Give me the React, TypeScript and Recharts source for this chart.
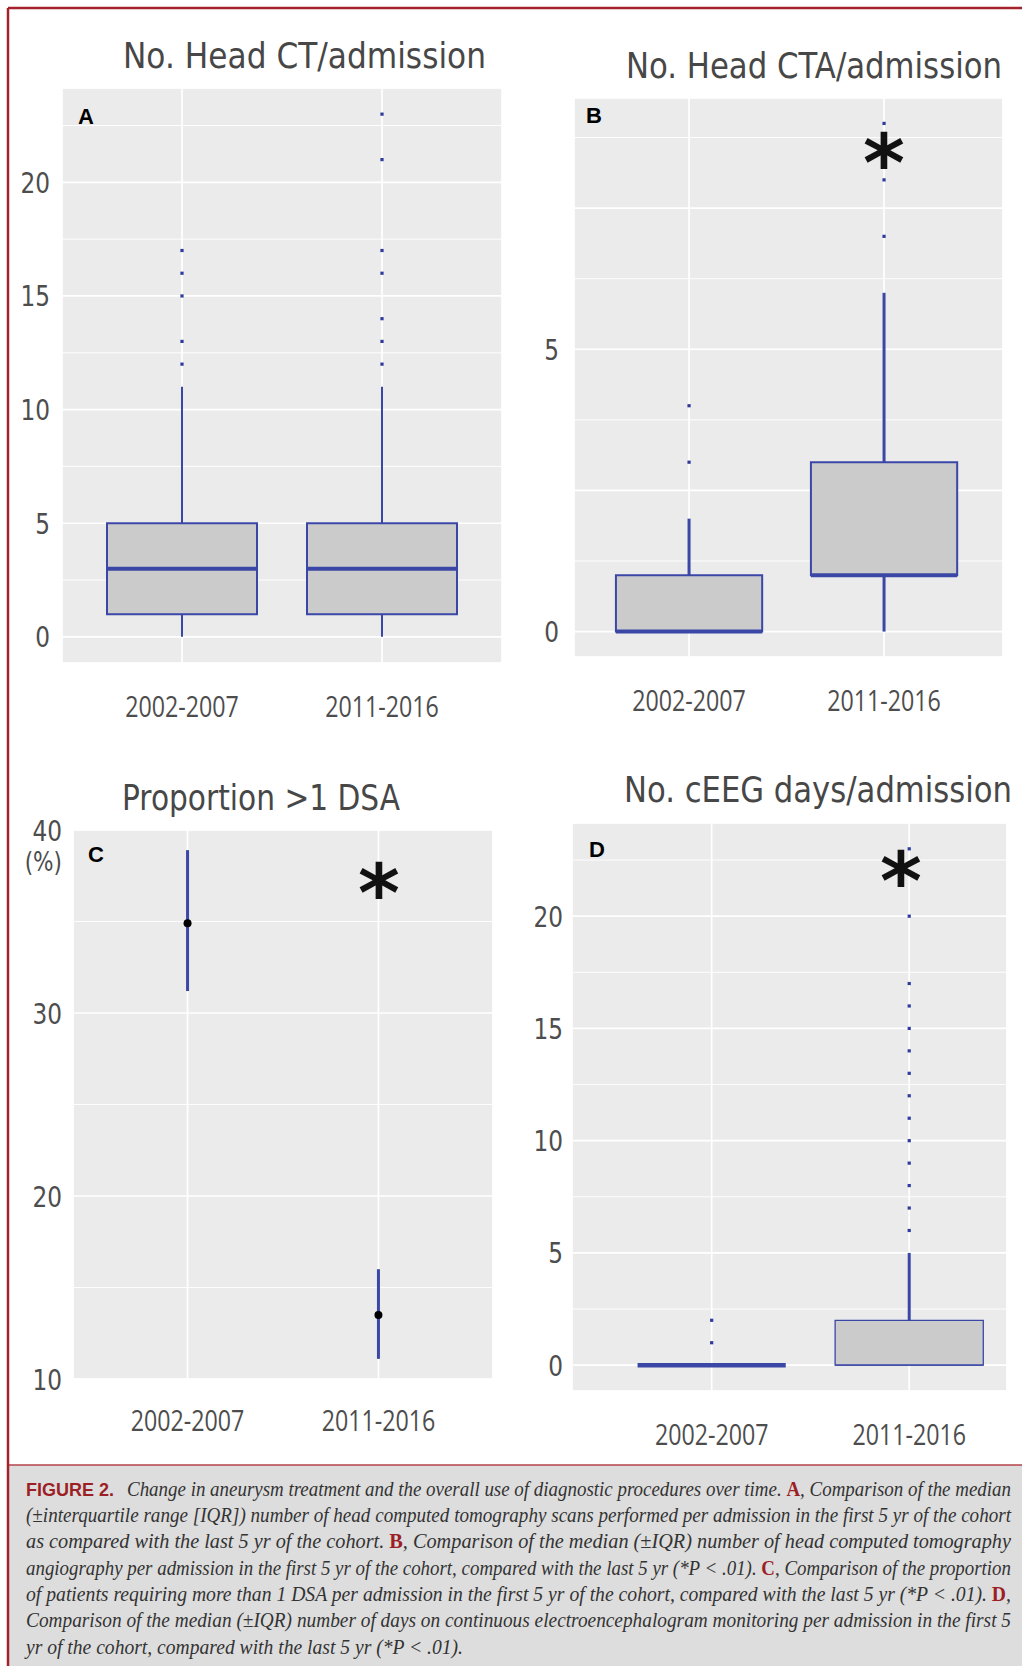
import React from 'react';
import { ScatterChart, Scatter, XAxis, YAxis, CartesianGrid, ReferenceArea, ReferenceLine } from 'recharts';

// ---------------- DATA ----------------
const categories = ['2002-2007', '2011-2016'];

// A: No. Head CT/admission
const ctWhiskerLow = [0, 0];
const ctQ1 = [1, 1];
const ctMedian = [3, 3];
const ctQ3 = [5, 5];
const ctWhiskerHigh = [11, 11];
const ctOutliers2002 = [12, 13, 15, 16, 17];
const ctOutliers2011 = [12, 13, 14, 16, 17, 21, 23];
const ctTicks = [0, 5, 10, 15, 20];
const ctMinorTicks = [2.5, 7.5, 12.5, 17.5, 22.5];

// B: No. Head CTA/admission
const ctaWhiskerLow = [0, 0];
const ctaQ1 = [0, 1];
const ctaMedian = [0, 1];
const ctaQ3 = [1, 3];
const ctaWhiskerHigh = [2, 6];
const ctaOutliers2002 = [3, 4];
const ctaOutliers2011 = [7, 8, 9];
const ctaTicks = [0, 2.5, 5, 7.5];
const ctaLabelledTicks = [0, 5];
const ctaMinorTicks = [1.25, 3.75, 6.25, 8.75];

// C: Proportion >1 DSA (%)
const dsaPercent = [34.9, 13.5];
const dsaLow = [31.2, 11.1];
const dsaHigh = [38.9, 16.0];
const dsaTicks = [10, 20, 30, 40];
const dsaMinorTicks = [15, 25, 35];

// D: No. cEEG days/admission
const eegWhiskerLow = [0, 0];
const eegQ1 = [0, 0];
const eegMedian = [0, 0];
const eegQ3 = [0, 2];
const eegWhiskerHigh = [0, 5];
const eegOutliers2002 = [1, 2];
const eegOutliers2011 = [6, 7, 8, 9, 10, 11, 12, 13, 14, 15, 16, 17, 20, 23];
const eegTicks = [0, 5, 10, 15, 20];
const eegMinorTicks = [2.5, 7.5, 12.5, 17.5, 22.5];

// ---------------- STYLE ----------------
const BLUE = '#3b47a6';
const DOT = '#2e3a9c';
const BOXFILL = '#cbcbcb';
const PANEL = '#ebebeb';
const AXTEXT = '#4d4d4d';
const RED = '#a3222b';
const HALF = 0.375;

type Box = { pos: number; lo: number; q1: number; med: number; q3: number; hi: number };
const buildBoxes = (lo: number[], q1: number[], med: number[], q3: number[], hi: number[]): Box[] =>
  categories.map((_, i) => ({ pos: i + 1, lo: lo[i], q1: q1[i], med: med[i], q3: q3[i], hi: hi[i] }));
const buildPoints = (groups: number[][]) =>
  groups.flatMap((vals, i) => vals.map((v) => ({ x: i + 1, y: v })));

const ctBoxes = buildBoxes(ctWhiskerLow, ctQ1, ctMedian, ctQ3, ctWhiskerHigh);
const ctaBoxes = buildBoxes(ctaWhiskerLow, ctaQ1, ctaMedian, ctaQ3, ctaWhiskerHigh);
const eegBoxes = buildBoxes(eegWhiskerLow, eegQ1, eegMedian, eegQ3, eegWhiskerHigh);
const ctPoints = buildPoints([ctOutliers2002, ctOutliers2011]);
const ctaPoints = buildPoints([ctaOutliers2002, ctaOutliers2011]);
const eegPoints = buildPoints([eegOutliers2002, eegOutliers2011]);
const dsaPoints = categories.map((_, i) => ({ x: i + 1, y: dsaPercent[i], lo: dsaLow[i], hi: dsaHigh[i] }));

type PanelProps = {
  plot: { x: number; y: number; w: number; h: number };
  xDomain: [number, number];
  yDomain: [number, number];
  ticks: number[];
  minorTicks: number[];
  labelled?: number[];
  yGap: number;
  xDy: number;
  percent?: boolean;
  boxes?: Box[];
  boxStroke?: number;
  whiskerWidth?: number;
  medianWidths?: number[];
  outliers?: { x: number; y: number }[];
  means?: { x: number; y: number; lo: number; hi: number }[];
};

const YM = 70;
const TOP = 24;

function Panel(p: PanelProps) {
  const { plot } = p;
  const width = plot.w + YM + 10;
  const height = plot.h + TOP + YM;
  const yTick = (props: any) => {
    const v = props.payload.value;
    if (p.labelled && !p.labelled.includes(v)) return <g />;
    return (
      <g transform={`translate(${props.x - p.yGap},${props.y + 10.5})`}>
        <text transform="scale(0.8,1)" textAnchor="end" fontFamily="DejaVu Sans" fontSize={29} fill={AXTEXT}>
          {String(v)}
        </text>
        {p.percent && v === 40 ? (
          <text transform="scale(0.8,1)" y={31} textAnchor="end" fontFamily="DejaVu Sans" fontSize={27} fill={AXTEXT}>
            (%)
          </text>
        ) : null}
      </g>
    );
  };
  const xTick = (props: any) => (
    <g transform={`translate(${props.x},${props.y + p.xDy})`}>
      <text transform="scale(0.8,1)" textAnchor="middle" fontFamily="Open Sans" fontSize={29} fill={AXTEXT}>
        {categories[Math.round(props.payload.value) - 1]}
      </text>
    </g>
  );
  return (
    <div style={{ position: 'absolute', left: plot.x - YM, top: plot.y - TOP, width, height }}>
      <ScatterChart width={width} height={height} margin={{ top: TOP, right: 10, bottom: 0, left: 0 }}>
        <XAxis
          type="number"
          dataKey="x"
          domain={p.xDomain}
          allowDataOverflow
          ticks={[1, 2]}
          interval={0}
          height={YM}
          tickSize={0}
          tickMargin={0}
          axisLine={false}
          tickLine={false}
          tick={xTick}
        />
        <YAxis
          type="number"
          dataKey="y"
          domain={p.yDomain}
          allowDataOverflow
          ticks={p.ticks}
          interval={0}
          width={YM}
          tickSize={0}
          tickMargin={0}
          axisLine={false}
          tickLine={false}
          tick={yTick}
        />
        <YAxis yAxisId="minor" type="number" domain={p.yDomain} allowDataOverflow ticks={p.minorTicks} interval={0} hide />
        <CartesianGrid fill={PANEL} fillOpacity={1} stroke="#ffffff" strokeWidth={1.7} />
        <CartesianGrid yAxisId="minor" vertical={false} stroke="#ffffff" strokeWidth={0.9} />
        {(p.boxes || []).map((b) => (
          <ReferenceArea
            key={`box${b.pos}`}
            x1={b.pos - HALF}
            x2={b.pos + HALF}
            y1={b.q1}
            y2={b.q3}
            fill={BOXFILL}
            fillOpacity={1}
            stroke={BLUE}
            strokeWidth={p.boxStroke}
          />
        ))}
        {(p.boxes || []).filter((b) => b.hi > b.q3).map((b) => (
          <ReferenceLine
            key={`wh${b.pos}`}
            segment={[{ x: b.pos, y: b.q3 }, { x: b.pos, y: b.hi }]}
            stroke={BLUE}
            strokeWidth={p.whiskerWidth}
          />
        ))}
        {(p.boxes || []).filter((b) => b.lo < b.q1).map((b) => (
          <ReferenceLine
            key={`wl${b.pos}`}
            segment={[{ x: b.pos, y: b.lo }, { x: b.pos, y: b.q1 }]}
            stroke={BLUE}
            strokeWidth={p.whiskerWidth}
          />
        ))}
        {(p.boxes || []).map((b, i) => (
          <ReferenceLine
            key={`md${b.pos}`}
            segment={[{ x: b.pos - HALF, y: b.med }, { x: b.pos + HALF, y: b.med }]}
            stroke={BLUE}
            strokeWidth={p.medianWidths ? p.medianWidths[i] : 4}
          />
        ))}
        {(p.means || []).map((m) => (
          <ReferenceLine
            key={`eb${m.x}`}
            segment={[{ x: m.x, y: m.lo }, { x: m.x, y: m.hi }]}
            stroke={BLUE}
            strokeWidth={3}
          />
        ))}
        {p.outliers ? (
          <Scatter
            data={p.outliers}
            isAnimationActive={false}
            shape={(s: any) => <rect x={s.cx - 1.6} y={s.cy - 1.6} width={3.2} height={3.2} fill={DOT} />}
          />
        ) : null}
        {p.means ? (
          <Scatter
            data={p.means}
            isAnimationActive={false}
            shape={(s: any) => <circle cx={s.cx} cy={s.cy} r={4} fill="#000000" />}
          />
        ) : null}
      </ScatterChart>
    </div>
  );
}

// ---------------- CAPTION ----------------
type Seg = { t: string; red?: boolean };
const captionLines: Seg[][] = [
  [{ t: 'Change in aneurysm treatment and the overall use of diagnostic procedures over time. ' }, { t: 'A', red: true }, { t: ', Comparison of the median' }],
  [{ t: '(\u00B1interquartile range [IQR]) number of head computed tomography scans performed per admission in the first 5 yr of the cohort' }],
  [{ t: 'as compared with the last 5 yr of the cohort. ' }, { t: 'B', red: true }, { t: ', Comparison of the median (\u00B1IQR) number of head computed tomography' }],
  [{ t: 'angiography per admission in the first 5 yr of the cohort, compared with the last 5 yr (*P < .01). ' }, { t: 'C', red: true }, { t: ', Comparison of the proportion' }],
  [{ t: 'of patients requiring more than 1 DSA per admission in the first 5 yr of the cohort, compared with the last 5 yr (*P < .01). ' }, { t: 'D', red: true }, { t: ',' }],
  [{ t: 'Comparison of the median (\u00B1IQR) number of days on continuous electroencephalogram monitoring per admission in the first 5' }],
  [{ t: 'yr of the cohort, compared with the last 5 yr (*P < .01).' }],
];
const captionX = [127, 26, 26, 26, 26, 26, 26];
const captionW = [884, 985, 985, 985, 985, 985, 437];

const titles = [
  { t: 'No. Head CT/admission', x: 123, y: 68, w: 363 },
  { t: 'No. Head CTA/admission', x: 626, y: 78, w: 376 },
  { t: 'Proportion >1 DSA', x: 122, y: 810, w: 278 },
  { t: 'No. cEEG days/admission', x: 624, y: 802, w: 388 },
];
const letters = [
  { t: 'A', x: 78, y: 124 },
  { t: 'B', x: 586, y: 123 },
  { t: 'C', x: 88, y: 862 },
  { t: 'D', x: 589, y: 857 },
];
const stars = [
  { x: 884, y: 152 },
  { x: 379, y: 882 },
  { x: 901, y: 870 },
];

export default function App() {
  return (
    <div style={{ position: 'absolute', left: 0, top: 0, width: 1022, height: 1666, background: '#ffffff', overflow: 'hidden' }}>
      <Panel
        plot={{ x: 62, y: 88, w: 440, h: 575 }}
        xDomain={[0.4, 2.6]}
        yDomain={[-1.15, 24.15]}
        ticks={ctTicks}
        minorTicks={ctMinorTicks}
        yGap={12}
        xDy={54}
        boxes={ctBoxes}
        boxStroke={2}
        whiskerWidth={2}
        medianWidths={[4, 4]}
        outliers={ctPoints}
      />
      <Panel
        plot={{ x: 574, y: 98, w: 429, h: 559 }}
        xDomain={[0.41, 2.61]}
        yDomain={[-0.45, 9.45]}
        ticks={ctaTicks}
        labelled={ctaLabelledTicks}
        minorTicks={ctaMinorTicks}
        yGap={15}
        xDy={54}
        boxes={ctaBoxes}
        boxStroke={2}
        whiskerWidth={3}
        medianWidths={[4, 4]}
        outliers={ctaPoints}
      />
      <Panel
        plot={{ x: 73, y: 830, w: 420, h: 549 }}
        xDomain={[0.4, 2.6]}
        yDomain={[10, 40]}
        ticks={dsaTicks}
        minorTicks={dsaMinorTicks}
        yGap={11}
        xDy={52}
        percent
        means={dsaPoints}
      />
      <Panel
        plot={{ x: 572, y: 823, w: 435, h: 568 }}
        xDomain={[0.293, 2.495]}
        yDomain={[-1.15, 24.15]}
        ticks={eegTicks}
        minorTicks={eegMinorTicks}
        yGap={9}
        xDy={54}
        boxes={eegBoxes}
        boxStroke={1.3}
        whiskerWidth={3}
        medianWidths={[4.5, 1.3]}
        outliers={eegPoints}
      />
      <svg width={1022} height={1666} style={{ position: 'absolute', left: 0, top: 0, pointerEvents: 'none' }}>
        {titles.map((t) => (
          <g key={t.t} transform={`translate(${t.x},${t.y}) scale(1,1.16)`}>
            <text x={0} y={0} fontFamily="DejaVu Sans" fontSize={30} fill="#474747" textLength={t.w} lengthAdjust="spacingAndGlyphs">
              {t.t}
            </text>
          </g>
        ))}
        {letters.map((l) => (
          <text key={l.t} x={l.x} y={l.y} fontFamily="Liberation Sans" fontWeight="bold" fontSize={22} fill="#000">
            {l.t}
          </text>
        ))}
        {stars.map((s, i) => (
          <text key={i} x={s.x} y={s.y + 39} textAnchor="middle" fontFamily="DejaVu Sans" fontWeight="bold" fontSize={80} fill="#111">
            *
          </text>
        ))}
        <rect x={8} y={1465} width={1014} height={201} fill="#dddddd" />
        <line x1={8} y1={1465} x2={1022} y2={1465} stroke="#b4434a" strokeWidth={1.6} />
        <line x1={8} y1={8} x2={1022} y2={8} stroke={RED} strokeWidth={2.5} />
        <line x1={8} y1={8} x2={8} y2={1666} stroke={RED} strokeWidth={2.5} />
        <text x={26} y={1495.7} fontFamily="Liberation Sans" fontWeight="bold" fontSize={18} fill="#9c1f26" textLength={88} lengthAdjust="spacingAndGlyphs">
          FIGURE 2.
        </text>
        {captionLines.map((segs, i) => (
          <g key={i} transform={`translate(${captionX[i]},${1495.7 + i * 26.3}) scale(1,1.12)`}>
            <text
              x={0}
              y={0}
              fontFamily="Liberation Serif"
              fontStyle="italic"
              fontSize={18}
              fill="#333333"
              textLength={captionW[i]}
              lengthAdjust="spacingAndGlyphs"
            >
              {segs.map((s, j) =>
                s.red ? (
                  <tspan key={j} fontStyle="normal" fontWeight="bold" fill="#9c1f26">
                    {s.t}
                  </tspan>
                ) : (
                  <tspan key={j}>{s.t}</tspan>
                )
              )}
            </text>
          </g>
        ))}
      </svg>
    </div>
  );
}
